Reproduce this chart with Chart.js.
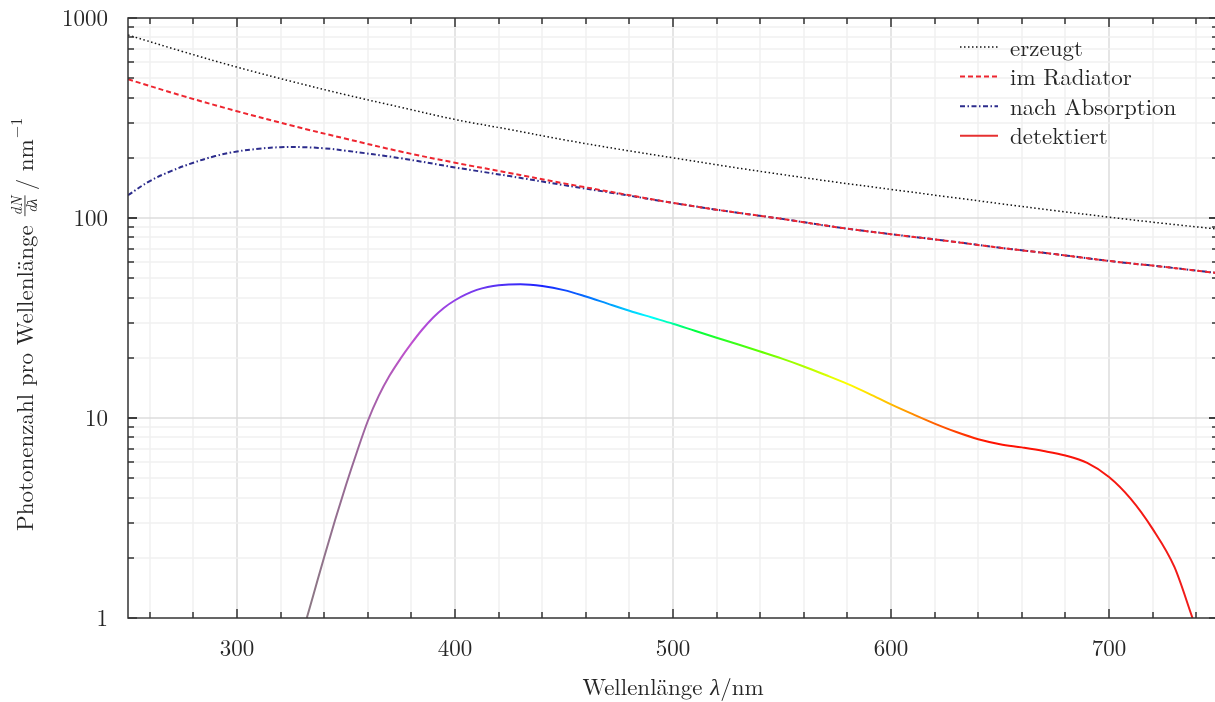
<!DOCTYPE html>
<html>
<head>
<meta charset="utf-8">
<title>Photonenspektrum</title>
<script src="https://cdn.jsdelivr.net/npm/chart.js@4/dist/chart.umd.min.js"></script>
<style>
  html, body { margin: 0; padding: 0; background: #fff; overflow: hidden; }
  #wrap { width: 1218px; height: 702px; }
</style>
</head>
<body>
<div id="wrap"><canvas id="spectrumChart" width="1218" height="702"></canvas></div>
<script>
const FONT = "'Latin Modern Roman', 'CMU Serif', 'Liberation Serif', serif";
const TEXT_COLOR = '#262626';

// wavelength grid (nm) for the two upper curves
const wavelengths = [250, 275, 300, 325, 350, 375, 400, 425, 450, 475, 500,
                     525, 550, 575, 600, 625, 650, 675, 700, 725, 750];
const generated = [822, 680, 568, 482, 413, 358, 311, 277, 246, 221, 200,
                   181, 165, 151, 139, 128, 118, 109, 101, 94, 88];
const inRadiator = [494, 408, 342, 290, 249, 215, 189, 168, 149, 133, 119,
                    108, 99, 90, 83, 77, 71, 66, 61, 57, 53];

// after absorption: denser near the maximum
const absorptionLambda = [250, 260, 270, 280, 290, 300, 310, 320, 330, 340, 350, 375, 400,
                          425, 450, 475, 500, 525, 550, 575, 600, 625, 650, 675, 700, 725, 750];
const afterAbsorption = [130, 153, 172, 189, 204, 215, 222, 226, 226, 223, 217, 199, 179,
                         162, 146, 132, 119, 108, 99, 90, 83, 77, 71, 66, 61, 57, 53];

// detected photons: 5 nm steps on the steep rise, 10 nm after that
const detectedLambda = [332, 335, 340, 345, 350, 355, 360, 365, 370, 375, 380, 385, 390, 395,
                        400, 405, 410, 415, 420, 430, 440, 450, 460, 470, 480, 490, 500,
                        510, 520, 530, 540, 550, 560, 570, 580, 590, 600, 610, 620, 630,
                        640, 650, 660, 670, 680, 690, 700, 710, 720, 730, 738.3];
const detected = [1.0, 1.30, 2.02, 3.09, 4.62, 6.76, 9.66, 12.9, 16.3, 19.8, 23.6, 27.7, 31.8, 35.6,
                  38.8, 41.5, 43.7, 45.2, 46.1, 46.6, 45.7, 43.6, 40.5, 37.3, 34.4, 31.9, 29.6,
                  27.3, 25.2, 23.3, 21.5, 19.8, 18.1, 16.4, 14.8, 13.2, 11.7, 10.45, 9.38, 8.51,
                  7.83, 7.40, 7.13, 6.84, 6.49, 5.96, 5.07, 3.94, 2.79, 1.80, 1.0];

// colour of the detected curve along the spectrum
const spectrumStops = [
  [330, '#8a7a82'], [355, '#9a6898'], [380, '#c050d0'], [400, '#9040e8'],
  [440, '#1a22ff'], [465, '#0080ff'], [490, '#00ffff'], [510, '#00ff40'],
  [540, '#60ff00'], [580, '#ffff00'], [600, '#ffbb00'], [620, '#ff6000'],
  [645, '#ff1000'], [750, '#ee1e1e']
];

const xLabels = [300, 400, 500, 600, 700];
const yLabels = [1, 10, 100, 1000];
const legendLabels = ['erzeugt', 'im Radiator', 'nach Absorption', 'detektiert'];

function toPoints(xs, ys) {
  return xs.map((x, i) => ({ x: x, y: ys[i] }));
}

function spectrumGradient(context) {
  const chart = context.chart;
  const area = chart.chartArea;
  if (!area) return '#ee1e1e';
  const xScale = chart.scales.x;
  const g = chart.ctx.createLinearGradient(area.left, 0, area.right, 0);
  const span = area.right - area.left;
  spectrumStops.forEach(([l, c]) => {
    const t = (xScale.getPixelForValue(l) - area.left) / span;
    g.addColorStop(Math.min(1, Math.max(0, t)), c);
  });
  return g;
}

// grid, frame with inward ticks, labels, titles and legend
const plotDecor = {
  id: 'plotDecor',
  beforeDatasetsDraw(chart) {
    const { ctx, chartArea: a, scales: { x, y } } = chart;
    ctx.save();
    ctx.lineWidth = 1.5;
    for (let v = 260; v < 750; v += 20) {
      const px = Math.round(x.getPixelForValue(v));
      ctx.strokeStyle = v % 100 === 0 ? '#dddddd' : '#f0f0f0';
      ctx.beginPath(); ctx.moveTo(px, a.top); ctx.lineTo(px, a.bottom); ctx.stroke();
    }
    for (let d = 1; d < 1000; d *= 10) {
      for (let m = 1; m <= 9; m++) {
        const v = d * m;
        if (v <= 1) continue;
        const py = Math.round(y.getPixelForValue(v));
        ctx.strokeStyle = m === 1 ? '#dddddd' : '#f0f0f0';
        ctx.beginPath(); ctx.moveTo(a.left, py); ctx.lineTo(a.right, py); ctx.stroke();
      }
    }
    ctx.restore();
  },
  afterDraw(chart) {
    const { ctx, chartArea: a, scales: { x, y } } = chart;
    ctx.save();
    ctx.strokeStyle = '#333';
    ctx.lineWidth = 1.5;
    ctx.strokeRect(a.left, a.top, a.right - a.left, a.bottom - a.top);

    // x ticks on bottom and top
    for (let v = 260; v < 750; v += 20) {
      const px = Math.round(x.getPixelForValue(v));
      const len = v % 100 === 0 ? 9 : 6;
      ctx.beginPath();
      ctx.moveTo(px, a.bottom); ctx.lineTo(px, a.bottom - len);
      ctx.moveTo(px, a.top); ctx.lineTo(px, a.top + len);
      ctx.stroke();
    }
    // y ticks on left and right
    for (let d = 1; d < 1000; d *= 10) {
      for (let m = 1; m <= 10; m++) {
        const v = d * m;
        const py = Math.round(y.getPixelForValue(v));
        const len = (m === 1 || m === 10) ? 9 : 6;
        ctx.beginPath();
        ctx.moveTo(a.left, py); ctx.lineTo(a.left + len, py);
        ctx.moveTo(a.right, py); ctx.lineTo(a.right - len, py);
        ctx.stroke();
      }
    }

    // tick labels
    ctx.fillStyle = TEXT_COLOR;
    ctx.font = `23px ${FONT}`;
    ctx.textAlign = 'center';
    ctx.textBaseline = 'alphabetic';
    xLabels.forEach(v => ctx.fillText(String(v), x.getPixelForValue(v), 656));
    ctx.textAlign = 'right';
    ctx.textBaseline = 'middle';
    yLabels.forEach(v => ctx.fillText(String(v), 108, y.getPixelForValue(v) + 1));

    // x title: Wellenlänge λ/nm
    ctx.textAlign = 'left';
    ctx.textBaseline = 'alphabetic';
    const parts = [['Wellenlänge ', ''], ['λ', 'italic '], ['/nm', '']];
    let total = 0;
    parts.forEach(([t, s]) => { ctx.font = `${s}23px ${FONT}`; total += ctx.measureText(t).width; });
    let tx = 673 - total / 2;
    parts.forEach(([t, s]) => {
      ctx.font = `${s}23px ${FONT}`;
      ctx.fillText(t, tx, 695);
      tx += ctx.measureText(t).width;
    });

    // y title, rotated
    ctx.save();
    ctx.translate(33, 531);
    ctx.rotate(-Math.PI / 2);
    ctx.font = `23px ${FONT}`;
    const main = 'Photonenzahl pro Wellenlänge';
    ctx.fillText(main, 0, 0);
    let ox = ctx.measureText(main).width + 9;
    ctx.font = `italic 15px ${FONT}`;
    const wN = ctx.measureText('dN').width;
    const wL = ctx.measureText('dλ').width;
    const w = Math.max(wN, wL) + 2;
    ctx.fillText('dN', ox + (w - wN) / 2, -11);
    ctx.fillText('dλ', ox + (w - wL) / 2, 4);
    ctx.fillRect(ox, -8.5, w, 0.9);
    ox += w + 5;
    ctx.font = `23px ${FONT}`;
    ctx.fillText('/ nm', ox, 0);
    ox += ctx.measureText('/ nm').width + 1;
    ctx.font = `16px ${FONT}`;
    ctx.fillText('−1', ox, -11);
    ctx.restore();

    // legend
    ctx.font = `23px ${FONT}`;
    chart.data.datasets.forEach((ds, i) => {
      const ly = 47 + i * 29.6;
      ctx.save();
      ctx.strokeStyle = ds.legendColor;
      ctx.lineWidth = ds.borderWidth;
      ctx.setLineDash(ds.borderDash || []);
      ctx.beginPath(); ctx.moveTo(960, ly); ctx.lineTo(998, ly); ctx.stroke();
      ctx.restore();
      ctx.fillText(ds.label, 1010, ly + 8.5);
    });
    ctx.restore();
  }
};

new Chart(document.getElementById('spectrumChart'), {
  type: 'line',
  data: {
    datasets: [
      {
        label: legendLabels[0],
        data: toPoints(wavelengths, generated),
        borderColor: '#111', legendColor: '#111',
        borderWidth: 1.5, borderDash: [1.5, 2.5]
      },
      {
        label: legendLabels[1],
        data: toPoints(wavelengths, inRadiator),
        borderColor: '#ee2630', legendColor: '#ee2630',
        borderWidth: 2, borderDash: [5, 3]
      },
      {
        label: legendLabels[2],
        data: toPoints(absorptionLambda, afterAbsorption),
        borderColor: '#2c2c8c', legendColor: '#2c2c8c',
        borderWidth: 2, borderDash: [5, 2.5, 1.5, 2.5]
      },
      {
        label: legendLabels[3],
        data: toPoints(detectedLambda, detected),
        borderColor: spectrumGradient, legendColor: '#e63030',
        borderWidth: 2,
        cubicInterpolationMode: 'monotone'
      }
    ]
  },
  options: {
    responsive: false,
    animation: false,
    layout: { padding: { top: 18, right: 0, bottom: 0, left: 0 } },
    elements: { point: { radius: 0 }, line: { tension: 0.4 } },
    plugins: { legend: { display: false }, tooltip: { enabled: false } },
    scales: {
      x: {
        type: 'linear', min: 250, max: 750,
        ticks: { display: false, stepSize: 20 },
        grid: { display: false },
        border: { display: false },
        afterFit(scale) { scale.height = 84; }
      },
      y: {
        type: 'logarithmic', min: 1, max: 1000,
        ticks: { display: false },
        grid: { display: false },
        border: { display: false },
        afterFit(scale) { scale.width = 128; }
      }
    }
  },
  plugins: [plotDecor]
});
</script>
</body>
</html>
